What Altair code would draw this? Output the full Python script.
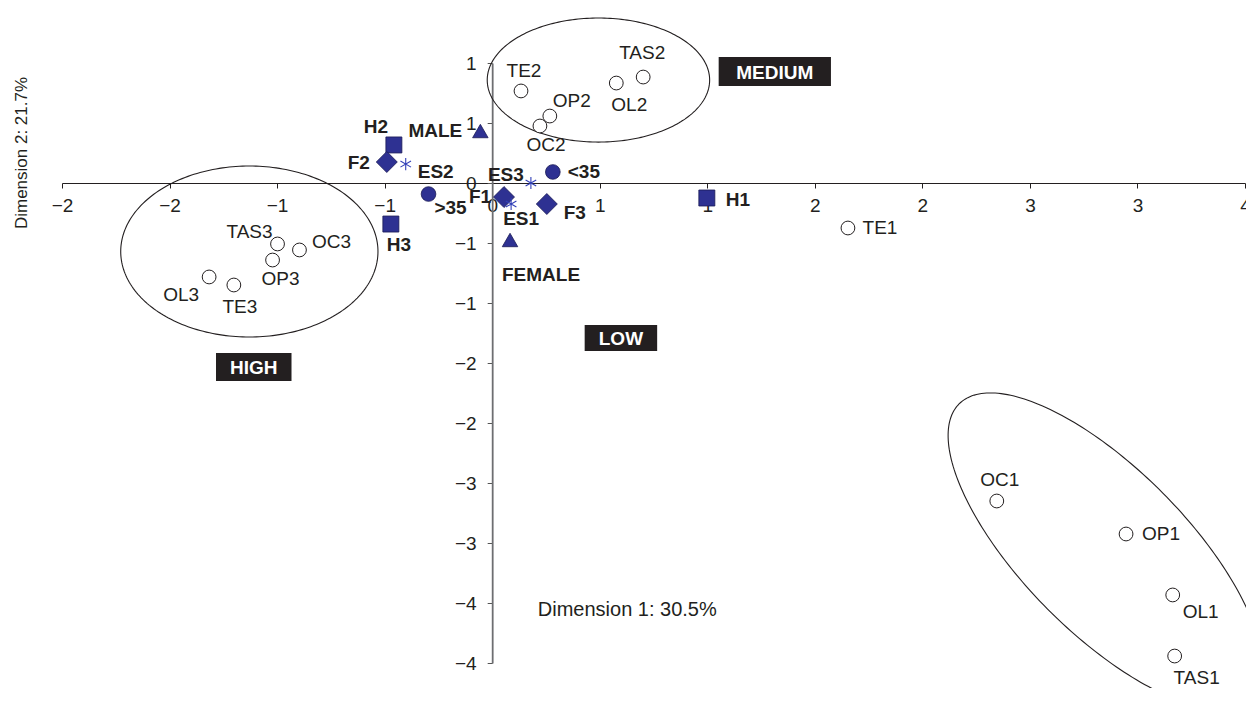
import altair as alt
import pandas as pd
import numpy as np

FONT = "Liberation Sans"
INK = "#231f20"
BLUE = "#2e3192"

# ---- open-circle category points (data units) ----
cat_names = ["TE2", "OP2", "OC2", "OL2", "TAS2", "TAS3", "OC3", "OP3", "OL3", "TE3",
             "OC1", "OP1", "OL1", "TAS1", "TE1"]
cat_x = [0.134, 0.268, 0.222, 0.577, 0.702, -0.998, -0.896, -1.021, -1.316, -1.201,
         2.346, 2.947, 3.164, 3.173, 1.654]
cat_y = [0.767, 0.558, 0.475, 0.833, 0.883, -0.508, -0.558, -0.642, -0.783, -0.850,
         -2.650, -2.925, -3.433, -3.942, -0.375]
# label offsets in pixels
cat_dx = [3, 22, 6, 13, -1, -28, 32, 8, -28, 6, 3, 35, 28, 22, 32]
cat_dy = [-20, -15, 19, 22, -24, -12, -8, 19, 18, 22, -21, 0, 17, 22, 0]

# ---- supplementary (blue) points ----
sup_names = ["H1", "H2", "H3", "F1", "F2", "F3", "MALE", "FEMALE", "<35", ">35",
             "ES1", "ES2", "ES3"]
sup_kind = ["square", "square", "square", "diamond", "diamond", "diamond",
            "triangle-up", "triangle-up", "circle", "circle",
            "asterisk", "asterisk", "asterisk"]
sup_x = [0.998, -0.457, -0.471, 0.055, -0.490, 0.254, -0.055, 0.083, 0.282, -0.296,
         0.088, -0.402, 0.180]
sup_y = [-0.125, 0.317, -0.342, -0.117, 0.175, -0.175, 0.433, -0.475, 0.092, -0.092,
         -0.175, 0.158, 0.0]
sup_dx = [31, -18, 8, -24, -28, 28, -45, 31, 31, 22, 10, 30, -25]
sup_dy = [2, -18, 21, 0, 1, 9, 0, 35, 0, 14, 15, 8, -8]

# ---- ellipses: centre and conjugate semi-axes (data units) ----
ell_id = ["medium", "high", "low"]
ell_cx = [0.494, -1.129, 2.850]
ell_cy = [0.858, -0.571, -3.067]
ell_ux = [0.517, 0.598, 0.6794]
ell_uy = [0.0, 0.0, -1.2258]
ell_vx = [0.0, 0.0, -0.2679]
ell_vy = [0.517, 0.7125, -0.4833]

# ---- boxed group labels ----
box_text = ["MEDIUM", "HIGH", "LOW"]
box_x1 = [1.053, -1.284, 0.430]
box_x2 = [1.575, -0.933, 0.767]
box_y1 = [1.050, -1.417, -1.183]
box_y2 = [0.808, -1.650, -1.400]

# ---- axis ticks ----
x_ticks = [-2, -1.5, -1, -0.5, 0, 0.5, 1, 1.5, 2, 2.5, 3, 3.5]
y_ticks = [-4, -3.5, -3, -2.5, -2, -1.5, -1, -0.5, 0, 0.5, 1]

W, H = 1183, 600
XDOM, YDOM = [-2, 3.5], [-4, 1]
# axes cross at the origin
x_axis_offset = -(0 - YDOM[0]) / (YDOM[1] - YDOM[0]) * H   # negative: move bottom axis up
y_axis_offset = -(0 - XDOM[0]) / (XDOM[1] - XDOM[0]) * W   # negative: move left axis right

LE = "datum.value < 0 ? '\u2212' + round(-datum.value) : '' + round(datum.value)"

xaxis = alt.Axis(values=x_ticks, offset=x_axis_offset, title=None, grid=False, tickSize=5,
                 tickColor=INK, domainColor=INK, domainWidth=1.2, tickWidth=1,
                 labelFont=FONT, labelFontSize=19, labelColor=INK, labelPadding=8,
                 labelFlush=False, labelOverlap=False, labelExpr=LE, zindex=0)
yaxis = alt.Axis(values=y_ticks, offset=y_axis_offset, title=None, grid=False, tickSize=5,
                 tickColor="#555555", domainColor="#6d6e71", domainWidth=1.8, tickWidth=1,
                 labelFont=FONT, labelFontSize=19, labelColor=INK, labelPadding=11,
                 labelOverlap=False, labelExpr=LE, zindex=0)

XS = alt.Scale(domain=XDOM, nice=False, zero=False)
YS = alt.Scale(domain=YDOM, nice=False, zero=False)
X = alt.X("x:Q", scale=XS, axis=xaxis)
Y = alt.Y("y:Q", scale=YS, axis=yaxis)

layers = []

# ellipses
t = np.linspace(0, 2 * np.pi, 241)
rows = []
for i, e in enumerate(ell_id):
    for k, tt in enumerate(t):
        rows.append({"id": e, "k": k,
                     "x": ell_cx[i] + ell_ux[i] * np.cos(tt) + ell_vx[i] * np.sin(tt),
                     "y": ell_cy[i] + ell_uy[i] * np.cos(tt) + ell_vy[i] * np.sin(tt)})
ell_df = pd.DataFrame(rows)
layers.append(alt.Chart(ell_df).mark_line(color=INK, strokeWidth=1.1).encode(
    x=X, y=Y, detail="id:N", order="k:Q"))

# open circles
cat_df = pd.DataFrame({"name": cat_names, "x": cat_x, "y": cat_y})
layers.append(alt.Chart(cat_df).mark_point(shape="circle", size=190, filled=True,
                                           fill="white", stroke=INK, strokeWidth=1,
                                           opacity=1).encode(x=X, y=Y))

sup_df = pd.DataFrame({"name": sup_names, "kind": sup_kind, "x": sup_x, "y": sup_y})
sizes = {"square": 256, "diamond": 441, "triangle-up": 240, "circle": 215}
for kind, sz in sizes.items():
    d = sup_df[sup_df.kind == kind]
    layers.append(alt.Chart(d).mark_point(shape=kind, size=sz, filled=True, fill=BLUE,
                                          stroke="#1b1a55", strokeWidth=0.8,
                                          opacity=1).encode(x=X, y=Y))
ast_path = "M0,-1L0,1M-0.866,-0.5L0.866,0.5M-0.866,0.5L0.866,-0.5"
d = sup_df[sup_df.kind == "asterisk"]
layers.append(alt.Chart(d).mark_point(shape=ast_path, size=150, filled=False,
                                      stroke="#3240b8", strokeWidth=1.1,
                                      opacity=1).encode(x=X, y=Y))

# labels
for i, n in enumerate(cat_names):
    d = pd.DataFrame({"x": [cat_x[i]], "y": [cat_y[i]], "t": [n]})
    layers.append(alt.Chart(d).mark_text(font=FONT, fontSize=19, color=INK,
                                         dx=cat_dx[i], dy=cat_dy[i], align="center",
                                         baseline="middle").encode(x=X, y=Y, text="t:N"))
for i, n in enumerate(sup_names):
    d = pd.DataFrame({"x": [sup_x[i]], "y": [sup_y[i]], "t": [n]})
    layers.append(alt.Chart(d).mark_text(font=FONT, fontSize=19, fontWeight="bold",
                                         color=INK, dx=sup_dx[i], dy=sup_dy[i],
                                         align="center", baseline="middle").encode(
        x=X, y=Y, text="t:N"))

# boxed labels
box_df = pd.DataFrame({"t": box_text, "x": box_x1, "x2": box_x2, "y": box_y1, "y2": box_y2})
box_df["xc"] = (box_df.x + box_df.x2) / 2
box_df["yc"] = (box_df.y + box_df.y2) / 2
layers.append(alt.Chart(box_df).mark_rect(fill=INK).encode(x=X, x2="x2:Q", y=Y, y2="y2:Q"))
layers.append(alt.Chart(box_df).mark_text(font=FONT, fontSize=19, fontWeight="bold",
                                          color="white", baseline="middle", dy=1).encode(
    x=alt.X("xc:Q", scale=XS, axis=xaxis),
    y=alt.Y("yc:Q", scale=YS, axis=yaxis),
    text="t:N"))

# axis titles as annotations
ann_text = ["Dimension 1: 30.5%", "Dimension 2: 21.7%"]
ann_x = [0.628, -2.185]
ann_y = [-3.558, 0.25]
ann_angle = [0, 270]
ann_size = [20, 17]
for i in range(2):
    d = pd.DataFrame({"x": [ann_x[i]], "y": [ann_y[i]], "t": [ann_text[i]]})
    layers.append(alt.Chart(d).mark_text(font=FONT, fontSize=ann_size[i], color=INK,
                                         angle=ann_angle[i], align="center",
                                         baseline="middle").encode(x=X, y=Y, text="t:N"))

chart = alt.layer(*layers).properties(
    width=W, height=H,
    autosize=alt.AutoSizeParams(type="none"),
    padding={"left": 54, "top": 55, "right": 1, "bottom": 25},
    background="white",
).configure_view(stroke=None)

chart.save("out.html", embed_options={"renderer": "svg", "actions": False})
